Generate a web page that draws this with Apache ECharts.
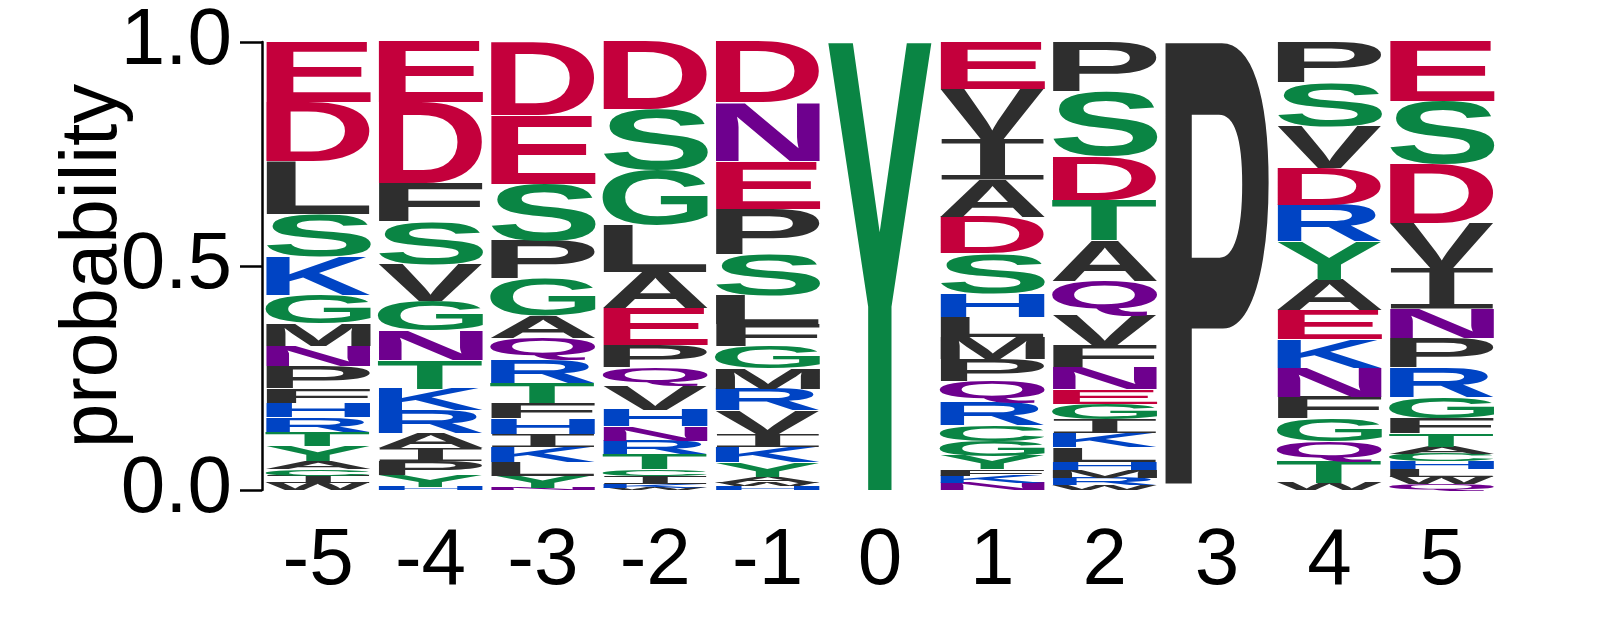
<!DOCTYPE html>
<html>
<head>
<meta charset="utf-8">
<script src="https://cdn.jsdelivr.net/npm/echarts@6/dist/echarts.min.js"></script>
<style>
  html, body { margin: 0; padding: 0; background: #fff; }
  #chart { width: 1597px; height: 625px; }
</style>
</head>
<body>
<div id="chart"></div>
<script>
// positions along the motif
var positions = ['-5', '-4', '-3', '-2', '-1', '0', '1', '2', '3', '4', '5'];

// letters of each column, read top to bottom, with their probabilities
var lettersM5 = 'EDLSKGMNPFHRTYACIW';
var heightsM5 = [0.134, 0.132, 0.118, 0.095, 0.086, 0.064, 0.05, 0.045, 0.05, 0.032, 0.032, 0.032, 0.032, 0.034, 0.018, 0.014, 0.016, 0.016];
var lettersM4 = 'EDFSVGNTKRAIPYH';
var heightsM4 = [0.136, 0.18, 0.086, 0.095, 0.082, 0.066, 0.066, 0.064, 0.048, 0.05, 0.034, 0.03, 0.032, 0.025, 0.007];
var lettersM3 = 'DESPGAQRTFHIKLYN';
var heightsM3 = [0.164, 0.152, 0.127, 0.086, 0.082, 0.05, 0.048, 0.052, 0.045, 0.034, 0.034, 0.03, 0.034, 0.03, 0.027, 0.005];
var lettersM2 = 'DSGLAEPQVHNRTCIKW';
var heightsM2 = [0.152, 0.136, 0.123, 0.105, 0.08, 0.082, 0.05, 0.041, 0.055, 0.036, 0.032, 0.03, 0.034, 0.014, 0.018, 0.009, 0.005];
var lettersM1 = 'DNEPSLFGMRVIKYAWH';
var heightsM1 = [0.136, 0.13, 0.107, 0.102, 0.091, 0.064, 0.05, 0.05, 0.045, 0.048, 0.052, 0.03, 0.034, 0.032, 0.014, 0.007, 0.009];
var lettersP0 = 'Y';
var heightsP0 = [1.0];
var lettersP1 = 'EVIADSHLMPQRCGYFKN';
var heightsP1 = [0.107, 0.111, 0.089, 0.084, 0.082, 0.089, 0.052, 0.045, 0.05, 0.05, 0.048, 0.05, 0.034, 0.034, 0.03, 0.014, 0.016, 0.016];
var lettersP2 = 'PSDTAQVFNEGIKLHMRW';
var heightsP2 = [0.111, 0.143, 0.098, 0.091, 0.091, 0.077, 0.068, 0.048, 0.048, 0.032, 0.034, 0.032, 0.032, 0.032, 0.018, 0.018, 0.016, 0.011];
var lettersP3 = 'P';
var heightsP3 = [1.0];
var lettersP4 = 'PSVDRYAEKNFGQTW';
var heightsP4 = [0.091, 0.098, 0.093, 0.082, 0.082, 0.086, 0.068, 0.064, 0.064, 0.066, 0.048, 0.05, 0.045, 0.048, 0.016];
var lettersP5 = 'ESDVINPRGFTACHLWQ';
var heightsP5 = [0.134, 0.141, 0.132, 0.1, 0.089, 0.066, 0.066, 0.066, 0.048, 0.034, 0.03, 0.016, 0.016, 0.018, 0.016, 0.016, 0.014];

var yTicks = [0, 0.5, 1.0];

var columns = [
	[lettersM5, heightsM5], [lettersM4, heightsM4], [lettersM3, heightsM3],
	[lettersM2, heightsM2], [lettersM1, heightsM1], [lettersP0, heightsP0],
	[lettersP1, heightsP1], [lettersP2, heightsP2], [lettersP3, heightsP3],
	[lettersP4, heightsP4], [lettersP5, heightsP5]
];

// chemistry colours
var colorOf = function(ch) {
	if ('DE'.indexOf(ch) >= 0) return '#C4003C';
	if ('KRH'.indexOf(ch) >= 0) return '#0044C4';
	if ('NQ'.indexOf(ch) >= 0) return '#6E008E';
	if ('SGTYC'.indexOf(ch) >= 0) return '#0A8544';
	return '#2E2E2E';
};

// the I of the logo font has thin bars top and bottom, so take it from a mono face
var fontOf = function(ch) {
	return ch === 'I' ? '100px "DejaVu Sans Mono", "Liberation Mono", monospace'
		: 'bold 100px "Liberation Sans", Arial, sans-serif';
};

// stack each column from the bottom up
var items = [];
columns.forEach(function(col, ci) {
	var lt = col[0], hs = col[1];
	var base = 0;
	for (var k = lt.length - 1; k >= 0; k--) {
		items.push({ col: ci, lo: base, hi: base + hs[k], ch: lt.charAt(k) });
		base += hs[k];
	}
});

// glyph bounds, so each letter can be stretched to fill its box
var ctx = document.createElement('canvas').getContext('2d');
ctx.textBaseline = 'middle';
ctx.textAlign = 'left';
var box = {};
items.forEach(function(it) {
	if (box[it.ch]) return;
	ctx.font = fontOf(it.ch);
	var m = ctx.measureText(it.ch);
	box[it.ch] = {
		l: -m.actualBoundingBoxLeft,
		r: m.actualBoundingBoxRight,
		t: -m.actualBoundingBoxAscent,
		b: m.actualBoundingBoxDescent
	};
});

var myChart = echarts.init(document.getElementById('chart'));
var option = {
	animation: false,
	grid: { left: 262, right: 99, top: 42, bottom: 135 },
	xAxis: {
		type: 'category',
		data: positions,
		axisLine: { show: false },
		axisTick: { show: false },
		axisLabel: { fontSize: 80, color: '#000', margin: 32, fontFamily: '"Liberation Sans", Arial, sans-serif' }
	},
	yAxis: {
		type: 'value',
		min: 0,
		max: 1,
		interval: 0.5,
		name: 'probability',
		nameLocation: 'middle',
		nameRotate: 90,
		nameGap: 128,
		nameMoveOverlap: false,
		nameTextStyle: { fontSize: 80, color: '#000', fontFamily: '"Liberation Sans", Arial, sans-serif' },
		axisLine: { show: true, lineStyle: { color: '#000', width: 2.5 } },
		axisTick: { show: true, length: 22, lineStyle: { color: '#000', width: 2.5 } },
		splitLine: { show: false },
		axisLabel: {
			fontSize: 80, color: '#000', margin: 30,
			fontFamily: '"Liberation Sans", Arial, sans-serif',
			formatter: function(v) { return yTicks.indexOf(v) >= 0 ? v.toFixed(1) : ''; }
		}
	},
	series: [{
		type: 'custom',
		data: items.map(function(it) { return [it.col, it.lo, it.hi]; }),
		encode: { x: 0, y: [1, 2] },
		renderItem: function(params, api) {
			var it = items[params.dataIndex];
			var lo = api.coord([api.value(0), api.value(1)]);
			var hi = api.coord([api.value(0), api.value(2)]);
			var w = api.size([1, 0])[0] * 0.94;
			var h = lo[1] - hi[1];
			if (h < 0.3) return;
			var b = box[it.ch];
			var sx = w / (b.r - b.l);
			var sy = h / (b.b - b.t);
			return {
				type: 'text',
				x: lo[0] - w / 2 - b.l * sx,
				y: hi[1] - b.t * sy,
				scaleX: sx,
				scaleY: sy,
				style: {
					text: it.ch,
					x: 0,
					y: 0,
					font: fontOf(it.ch),
					fill: colorOf(it.ch),
					align: 'left',
					verticalAlign: 'middle'
				}
			};
		}
	}]
};
myChart.setOption(option);
</script>
</body>
</html>
